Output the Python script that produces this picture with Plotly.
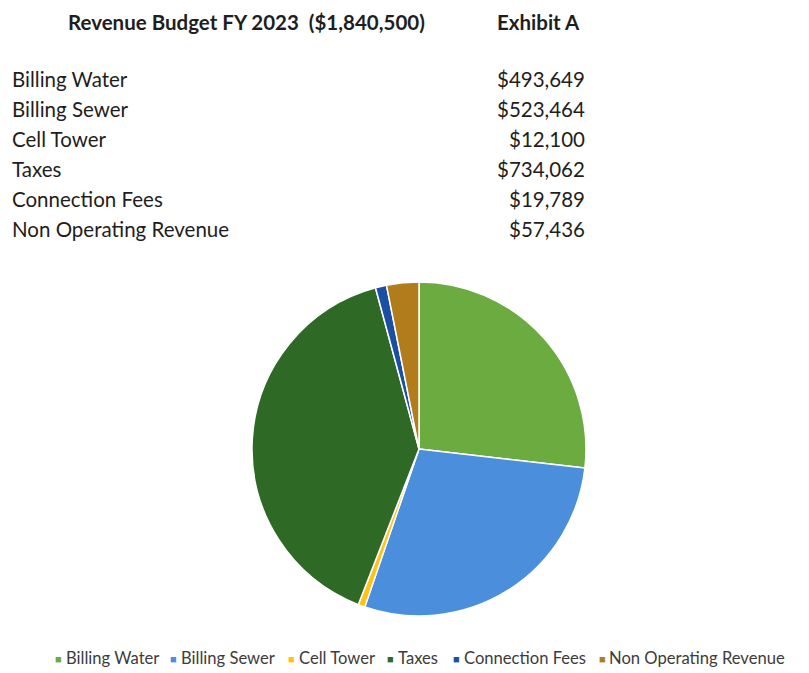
import plotly.graph_objects as go

categories = ["Billing Water", "Billing Sewer", "Cell Tower", "Taxes", "Connection Fees", "Non Operating Revenue"]
values = [493649, 523464, 12100, 734062, 19789, 57436]
value_labels = ["$493,649", "$523,464", "$12,100", "$734,062", "$19,789", "$57,436"]
colors = ["#6CAB40", "#4A8EDC", "#FFC21A", "#2E6A26", "#1B4FA2", "#B07C1C"]
title_text = "Revenue Budget FY 2023  ($1,840,500)"
exhibit_text = "Exhibit A"

W, H = 809, 673
OFF = 8  # page body margin
FONT = "Lato"

def px(x):
    return (x - OFF) / W

def py(y):
    return 1 - (y - OFF) / H

cx, cy, r = 419, 449, 167

fig = go.Figure()
fig.add_trace(go.Pie(
    labels=categories,
    values=values,
    sort=False,
    direction="clockwise",
    rotation=0,
    textinfo="none",
    hoverinfo="label+value+percent",
    marker=dict(colors=colors, line=dict(color="white", width=1.5)),
    domain=dict(x=[px(cx - r), px(cx + r)], y=[py(cy + r), py(cy - r)]),
    showlegend=False,
))

TXT = "#1e1e1e"
anns = []
anns.append(dict(text="<b>" + title_text + "</b>", x=px(66), y=py(22), xanchor="left", yanchor="middle",
                 font=dict(size=20.5, color=TXT), showarrow=False))
anns.append(dict(text="<b>" + exhibit_text + "</b>", x=px(495), y=py(22), xanchor="left", yanchor="middle",
                 font=dict(size=20.5, color=TXT), showarrow=False))
row_y = [79, 109, 139, 169, 199, 229]
for c, v, yy in zip(categories, value_labels, row_y):
    anns.append(dict(text=c, x=px(10), y=py(yy), xanchor="left", yanchor="middle",
                     font=dict(size=20.5, color=TXT), showarrow=False))
    anns.append(dict(text=v, x=px(587), y=py(yy), xanchor="right", yanchor="middle",
                     font=dict(size=20.5, color=TXT), showarrow=False))

# custom compact legend (marker x, text start x)
leg_marker_x = [58, 173, 291, 390, 456, 602]
leg_text_x = [64, 179, 297, 396, 462, 607]
leg_y = 658
for c, col, mx, tx in zip(categories, colors, leg_marker_x, leg_text_x):
    anns.append(dict(text="■", x=px(mx), y=py(leg_y), xanchor="center", yanchor="middle",
                     font=dict(size=11, color=col), showarrow=False))
    anns.append(dict(text=c, x=px(tx), y=py(leg_y), xanchor="left", yanchor="middle",
                     font=dict(size=16.6, color="#3c3c3c"), showarrow=False))

fig.update_layout(
    width=W, height=H,
    margin=dict(l=0, r=0, t=0, b=0),
    paper_bgcolor="white",
    plot_bgcolor="white",
    font=dict(family=FONT, color="#333"),
    annotations=anns,
    showlegend=False,
)

fig.write_html("out.html")
